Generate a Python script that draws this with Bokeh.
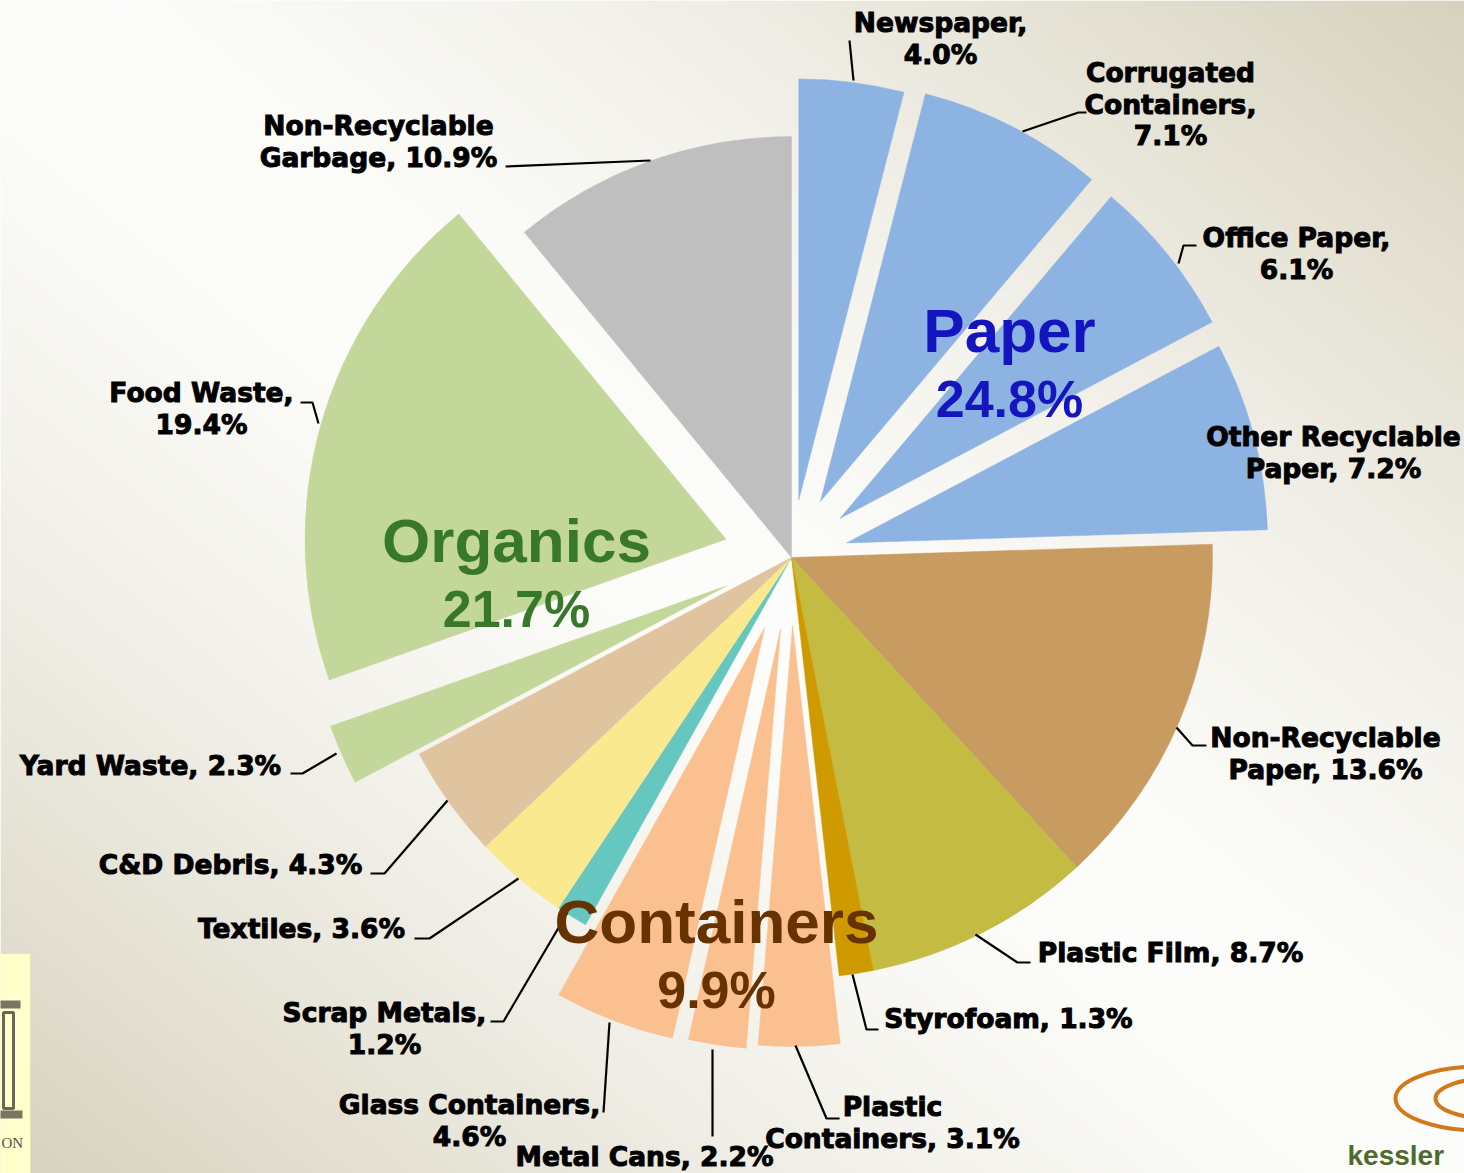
import numpy as np
from bokeh.plotting import figure
from bokeh.models import Range1d, ColumnDataSource
from bokeh.core.properties import value
from bokeh.embed import file_html
from bokeh.resources import INLINE

# ---------------- data ----------------
categories = ["Newspaper", "Corrugated Containers", "Office Paper", "Other Recyclable Paper",
              "Non-Recyclable Paper", "Plastic Film", "Styrofoam", "Plastic Containers",
              "Metal Cans", "Glass Containers", "Scrap Metals", "Textiles", "C&D Debris",
              "Yard Waste", "Food Waste", "Non-Recyclable Garbage"]
shares = [4.0, 7.1, 6.1, 7.2, 13.6, 8.7, 1.3, 3.1, 2.2, 4.6, 1.2, 3.6, 4.3, 2.3, 19.4, 10.9]
groups = ["Paper", "Organics", "Containers"]
group_shares = [24.8, 21.7, 9.9]

# ---------------- styles / layout ----------------
slice_colors = ["#8DB3E2", "#8DB3E2", "#8DB3E2", "#8DB3E2",
                "#C89B61", "#C3BB42", "#CF9A00", "#FAC090",
                "#FAC090", "#FAC090", "#66C7C1", "#FBE98F", "#E0C4A0",
                "#C4D79B", "#C4D79B", "#BFBFBF"]
explode = [58, 63, 62, 57, 0, 0, 0, 68, 72, 75, 0, 0, 0, 70, 68, 0]
# how each label is broken into lines: A = after name, L = at last space of name,
# AA = at every space of name and after name, N = one line
label_mode = ["A", "AA", "A", "L", "L", "N", "N", "L", "N", "A", "A", "N", "N", "N", "A", "L"]
# label centre x and first-line y in page pixels
label_pos = [(940, 22), (1170, 72), (1296, 237), (1333, 436), (1325, 737), (1170, 952),
             (1008, 1018), (892, 1106), (644, 1156), (469, 1104), (384, 1012), (301, 928),
             (230, 864), (150, 765), (201, 392), (378, 125)]
leaders = [
    [(849, 40), (853, 80)],
    [(1022, 131), (1078, 112), (1086, 112)],
    [(1178, 263), (1183, 245), (1196, 245)],
    None,
    [(1176, 727), (1192, 745), (1206, 745)],
    [(975, 934), (1017, 962), (1030, 962)],
    [(852, 974), (866, 1029), (878, 1029)],
    [(795, 1045), (826, 1118), (839, 1118)],
    [(712, 1049), (712, 1136)],
    [(609, 1022), (603, 1112)],
    [(567, 912), (503, 1021), (490, 1021)],
    [(518, 878), (429, 938), (414, 938)],
    [(447, 800), (384, 873), (370, 873)],
    [(336, 753), (302, 773), (290, 773)],
    [(318, 423), (312, 402), (300, 402)],
    [(650, 160), (505, 166)],
]
group_colors = ["#1515C0", "#37782A", "#663300"]
group_pos = [(1009, 330), (516, 540), (716, 921)]

W, H = 1464, 1173
CX, CY = 791, 557
R = 421
LINE_H = 31.5


def px(x):
    return x - CX


def py(y):
    return CY - y


p = figure(width=W, height=H, output_backend="svg", toolbar_location=None,
           x_range=Range1d(-CX, W - CX), y_range=Range1d(CY - H, CY),
           x_axis_type=None, y_axis_type=None, min_border=0,
           outline_line_color=None, background_fill_color="#FFFFFF",
           border_fill_color="#FFFFFF")

# background gradient (white along the main diagonal, beige to the other corners)
hh, ww = 587, 732
yy, xx = np.mgrid[0:hh, 0:ww]
u = xx / (ww - 1)
v = 1.0 - yy / (hh - 1)
t = np.clip(np.abs(u - v), 0, 1) ** 1.4
c0 = np.array([253, 253, 251])
c1 = np.array([215, 210, 190])
img = np.empty((hh, ww), dtype=np.uint32)
view = img.view(dtype=np.uint8).reshape((hh, ww, 4))
for k in range(3):
    view[:, :, k] = (c0[k] + (c1[k] - c0[k]) * t).astype(np.uint8)
view[:, :, 3] = 255
p.image_rgba(image=[img], x=-CX, y=CY - H, dw=W, dh=H)

# decorative logos (partial, at the page edges)
p.quad(left=px(-2), right=px(30), top=py(953), bottom=py(1175),
       fill_color="#FFFFCC", line_color="#E8E3B0")
p.quad(left=px(-2), right=px(20), top=py(1000), bottom=py(1008), fill_color="#7A7466", line_color=None)
p.quad(left=px(3), right=px(13), top=py(1012), bottom=py(1108), fill_color=None, line_color="#6B655A", line_width=3)
p.quad(left=px(-2), right=px(22), top=py(1110), bottom=py(1118), fill_color="#7A7466", line_color=None)
p.text(x=[px(1)], y=[py(1142)], text=["ON"], text_align="left", text_baseline="middle",
       text_font=value("Liberation Serif"), text_font_size="15px", text_color="#55504A")
p.ellipse(x=[px(1480), px(1490)], y=[py(1098), py(1098)], width=[170, 110], height=[64, 40],
          fill_color=None, line_color="#D07A1C", line_width=4)
p.text(x=[px(1347)], y=[py(1155)], text=["kessler"], text_align="left", text_baseline="middle",
       text_font=value("Liberation Sans"), text_font_style="bold", text_font_size="28px",
       text_color="#4F6B2B")

# ---------------- pie ----------------
shares_a = np.array(shares)
total = shares_a.sum()
cum = np.concatenate([[0.0], np.cumsum(shares_a)])
th1 = cum[:-1] / total * 2 * np.pi
th2 = cum[1:] / total * 2 * np.pi
mid = (th1 + th2) / 2
ex = np.array(explode, dtype=float)
src = ColumnDataSource(dict(
    x=ex * np.sin(mid), y=ex * np.cos(mid),
    start=np.pi / 2 - th1, end=np.pi / 2 - th2,
    color=slice_colors, name=categories, share=shares))
p.wedge(x="x", y="y", radius=R, start_angle="start", end_angle="end", direction="clock",
        fill_color="color", line_color="color", line_width=0.5, source=src)

# leader lines
lx, ly = [], []
for seg in leaders:
    if seg is None:
        continue
    lx.append([px(a) for a, b in seg])
    ly.append([py(b) for a, b in seg])
p.multi_line(xs=lx, ys=ly, line_color="#000000", line_width=2.2)

# slice labels
tx, ty, tt = [], [], []
for name, val, mode, (cx, cy) in zip(categories, shares, label_mode, label_pos):
    pct = f"{val:.1f}%"
    if mode == "A":
        lines = [name + ",", pct]
    elif mode == "AA":
        lines = name.split(" ")
        lines[-1] += ","
        lines.append(pct)
    elif mode == "L":
        head, tail = name.rsplit(" ", 1)
        lines = [head, f"{tail}, {pct}"]
    else:
        lines = [f"{name}, {pct}"]
    for i, ln in enumerate(lines):
        tx.append(px(cx))
        ty.append(py(cy + i * LINE_H))
        tt.append(ln)
p.text(x=tx, y=ty, text=tt, text_align="center", text_baseline="middle",
       text_font=value("DejaVu Sans"), text_font_style="bold", text_font_size="26.5px",
       text_color="#000000", text_outline_color="#000000")

# group labels
for g, gv, gc, (gx, gy) in zip(groups, group_shares, group_colors, group_pos):
    p.text(x=[px(gx)], y=[py(gy)], text=[g], text_align="center", text_baseline="middle",
           text_font=value("Liberation Sans"), text_font_style="bold", text_font_size="62px",
           text_color=gc)
    p.text(x=[px(gx)], y=[py(gy + 68)], text=[f"{gv:.1f}%"], text_align="center",
           text_baseline="middle", text_font=value("Liberation Sans"), text_font_style="bold",
           text_font_size="52px", text_color=gc)

open("out.html", "w").write(file_html(p, INLINE))
